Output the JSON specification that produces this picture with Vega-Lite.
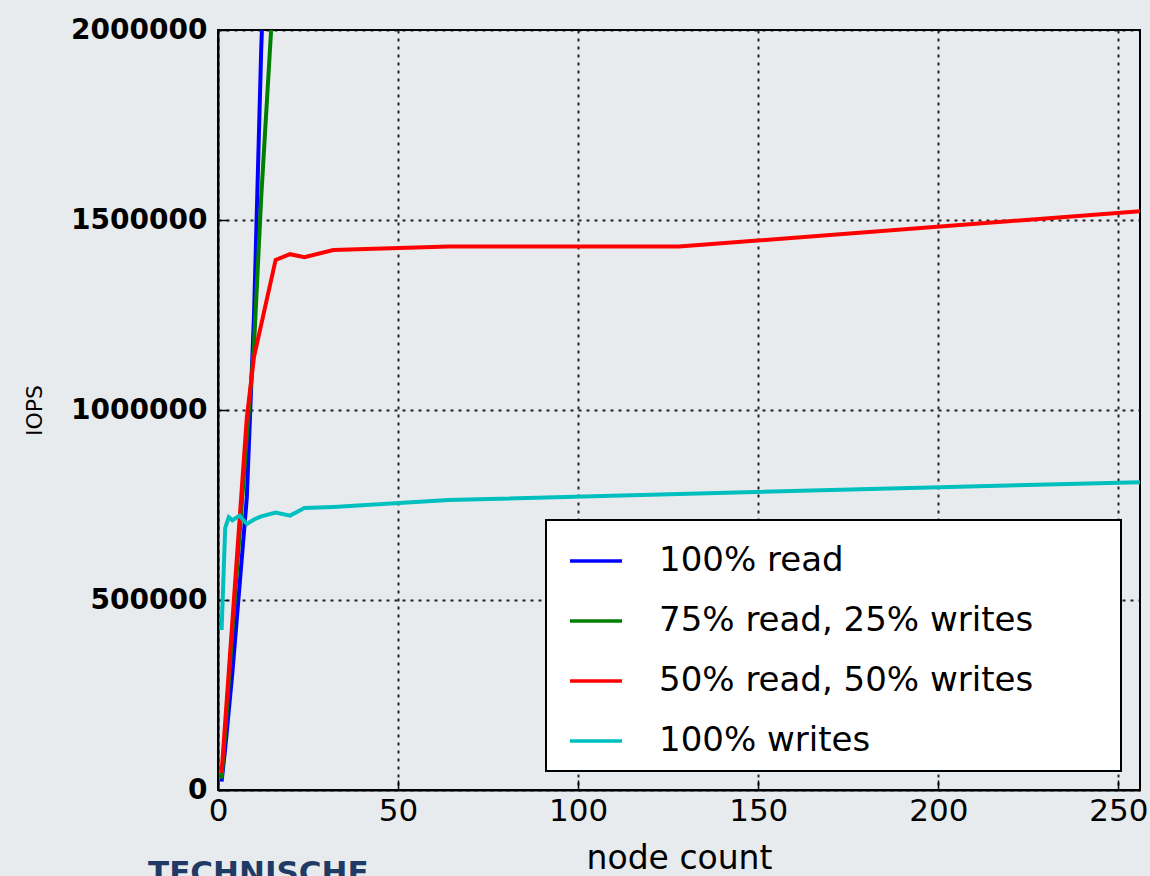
{
  "$schema": "https://vega.github.io/schema/vega-lite/v6.json",
  "width": 922,
  "height": 760,
  "autosize": {"type": "none"},
  "padding": {"left": 218, "top": 30, "right": 10, "bottom": 86},
  "background": "#e8ebee",
  "title": {
    "text": "TECHNISCHE",
    "orient": "bottom",
    "anchor": "start",
    "frame": "group",
    "dx": -70,
    "offset": -16,
    "font": "DejaVu Sans",
    "fontWeight": "bold",
    "fontSize": 31,
    "color": "#1f3a64",
    "baseline": "top"
  },
  "data": {
    "values": [
      {"series": "100% read", "nodes": 1, "iops": 22000},
      {"series": "100% read", "nodes": 2, "iops": 110000},
      {"series": "100% read", "nodes": 4, "iops": 310000},
      {"series": "100% read", "nodes": 8, "iops": 770000},
      {"series": "100% read", "nodes": 10, "iops": 1250000},
      {"series": "100% read", "nodes": 12, "iops": 1950000},
      {"series": "100% read", "nodes": 16, "iops": 3000000},
      {"series": "75% read, 25% writes", "nodes": 1, "iops": 30000},
      {"series": "75% read, 25% writes", "nodes": 2, "iops": 150000},
      {"series": "75% read, 25% writes", "nodes": 4, "iops": 420000},
      {"series": "75% read, 25% writes", "nodes": 8, "iops": 930000},
      {"series": "75% read, 25% writes", "nodes": 10, "iops": 1170000},
      {"series": "75% read, 25% writes", "nodes": 12, "iops": 1560000},
      {"series": "75% read, 25% writes", "nodes": 16, "iops": 2200000},
      {"series": "50% read, 50% writes", "nodes": 1, "iops": 45000},
      {"series": "50% read, 50% writes", "nodes": 2, "iops": 180000},
      {"series": "50% read, 50% writes", "nodes": 4, "iops": 445000},
      {"series": "50% read, 50% writes", "nodes": 8, "iops": 980000},
      {"series": "50% read, 50% writes", "nodes": 10, "iops": 1140000},
      {"series": "50% read, 50% writes", "nodes": 16, "iops": 1395000},
      {"series": "50% read, 50% writes", "nodes": 20, "iops": 1410000},
      {"series": "50% read, 50% writes", "nodes": 24, "iops": 1402000},
      {"series": "50% read, 50% writes", "nodes": 32, "iops": 1421000},
      {"series": "50% read, 50% writes", "nodes": 64, "iops": 1430000},
      {"series": "50% read, 50% writes", "nodes": 128, "iops": 1430000},
      {"series": "50% read, 50% writes", "nodes": 256, "iops": 1523000},
      {"series": "100% writes", "nodes": 1, "iops": 421000},
      {"series": "100% writes", "nodes": 2, "iops": 690000},
      {"series": "100% writes", "nodes": 3, "iops": 718000},
      {"series": "100% writes", "nodes": 4, "iops": 710000},
      {"series": "100% writes", "nodes": 6, "iops": 722000},
      {"series": "100% writes", "nodes": 8, "iops": 700000},
      {"series": "100% writes", "nodes": 10, "iops": 712000},
      {"series": "100% writes", "nodes": 12, "iops": 720000},
      {"series": "100% writes", "nodes": 16, "iops": 730000},
      {"series": "100% writes", "nodes": 20, "iops": 722000},
      {"series": "100% writes", "nodes": 24, "iops": 742000},
      {"series": "100% writes", "nodes": 32, "iops": 745000},
      {"series": "100% writes", "nodes": 64, "iops": 763000},
      {"series": "100% writes", "nodes": 128, "iops": 779000},
      {"series": "100% writes", "nodes": 256, "iops": 810000}
    ]
  },
  "mark": {"type": "line", "clip": true, "strokeWidth": 4},
  "encoding": {
    "x": {
      "field": "nodes",
      "type": "quantitative",
      "title": "node count",
      "scale": {"domain": [0, 256], "nice": false, "zero": false},
      "axis": {
        "values": [0, 50, 100, 150, 200, 250],
        "labelFlush": false,
        "labelFontSize": 31,
        "labelPadding": 16,
        "titleFontSize": 33,
        "titlePadding": 16
      }
    },
    "y": {
      "field": "iops",
      "type": "quantitative",
      "title": "IOPS",
      "scale": {"domain": [0, 2000000], "nice": false},
      "axis": {
        "values": [0, 500000, 1000000, 1500000, 2000000],
        "format": "d",
        "labelFlush": false,
        "labelFontSize": 28,
        "labelFontWeight": "bold",
        "labelPadding": 21,
        "titleFontSize": 22,
        "titlePadding": 24
      }
    },
    "color": {
      "field": "series",
      "type": "nominal",
      "sort": ["100% read", "75% read, 25% writes", "50% read, 50% writes", "100% writes"],
      "scale": {
        "domain": ["100% read", "75% read, 25% writes", "50% read, 50% writes", "100% writes"],
        "range": ["#0000ff", "#008000", "#ff0000", "#00bfbf"]
      },
      "legend": {
        "title": null,
        "orient": "bottom-right",
        "offset": 19,
        "symbolType": "stroke",
        "symbolSize": 2704,
        "symbolStrokeWidth": 3.5,
        "symbolOffset": 9,
        "labelFontSize": 34,
        "labelFont": "DejaVu Sans",
        "labelColor": "#000",
        "labelOffset": 35,
        "labelLimit": 1000,
        "labelExpr": "datum.label + '\u2800\u2800\u2800'",
        "rowPadding": 15,
        "padding": 13,
        "fillColor": "#ffffff",
        "strokeColor": "#000000",
        "cornerRadius": 0,
        "encode": {"legend": {"update": {"strokeWidth": {"value": 2}}}}
      }
    }
  },
  "config": {
    "font": "DejaVu Sans",
    "view": {"stroke": "#000", "strokeWidth": 2, "fill": null},
    "axis": {
      "domainColor": "#000",
      "domainWidth": 2,
      "grid": true,
      "gridColor": "#000",
      "gridDash": [3, 5],
      "gridWidth": 2,
      "gridOpacity": 0.85,
      "tickColor": "#000",
      "tickSize": -10,
      "tickWidth": 1.5,
      "labelColor": "#000",
      "labelFont": "DejaVu Sans",
      "titleColor": "#000",
      "titleFont": "DejaVu Sans",
      "titleFontWeight": "normal"
    }
  }
}
